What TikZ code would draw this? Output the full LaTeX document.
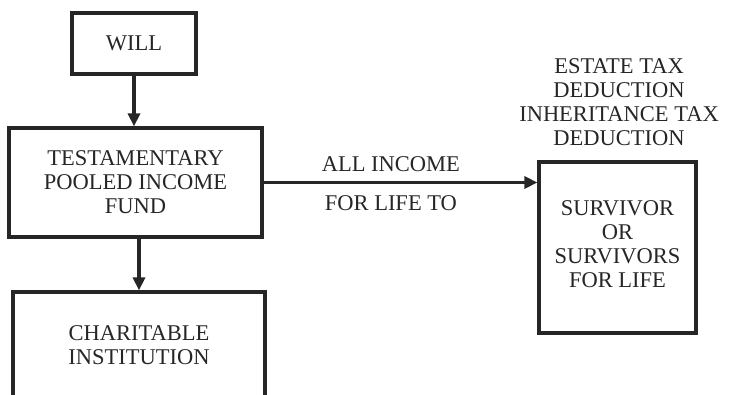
\documentclass[tikz,border=0pt]{standalone}
\usepackage{fontspec}
\setmainfont{Liberation Serif}
\usetikzlibrary{arrows.meta}
\definecolor{ink}{HTML}{262626}
\tikzset{
  box/.style={draw=ink, line width=3.2pt, rectangle, inner sep=0pt, align=center, text=ink},
  lbl/.style={align=center, text=ink, inner sep=0pt},
  arr/.style={draw=ink, line width=3.4pt, -{Triangle[length=13pt,width=12pt]}},
}
\begin{document}
\begin{tikzpicture}[x=1pt,y=1pt,font=\fontsize{22.5}{24}\selectfont]
\useasboundingbox (0,0) rectangle (730,-395);
\clip (0,0) rectangle (730,-395);
\node[box, minimum width=124pt, minimum height=61pt] (will) at (134,-43.5) {WILL};
\node[box, minimum width=253pt, minimum height=109pt] (tpif) at (135.5,-182.5) {TESTAMENTARY\\POOLED INCOME\\FUND};
\node[box, minimum width=252pt, minimum height=128pt] (charity) at (139,-356) {};
\node[lbl] (chtext) at (139,-345.5) {CHARITABLE\\INSTITUTION};
\node[box, minimum width=157pt, minimum height=171pt] (surv) at (617.5,-247.5) {};
\node[lbl] (survtext) at (617.5,-244) {SURVIVOR\\OR\\SURVIVORS\\FOR LIFE};
\node[lbl] (tax) at (619,-102.5) {ESTATE TAX\\DEDUCTION\\INHERITANCE TAX\\DEDUCTION};
\draw[arr] (will.south) -- (will.south |- tpif.north);
\draw[arr] (charity.north |- tpif.south) -- (charity.north);
\draw[arr] (tpif.east) -- (tpif.east -| surv.west)
  node[lbl, pos=0.465, above=9pt] (allinc) {ALL INCOME}
  node[lbl, pos=0.465, below=11pt] (forlife) {FOR LIFE TO};
\end{tikzpicture}
\end{document}
